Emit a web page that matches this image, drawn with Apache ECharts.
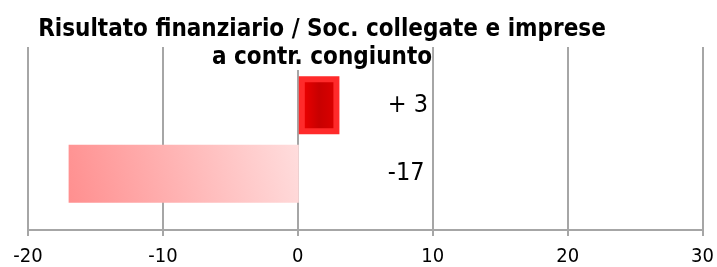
<!DOCTYPE html>
<html>
<head>
<meta charset="utf-8">
<script src="https://cdn.jsdelivr.net/npm/echarts@6/dist/echarts.min.js"></script>
<style>
  html, body { margin: 0; padding: 0; background: #fff; }
  #chart { width: 717px; height: 267px; }
</style>
</head>
<body>
<div id="chart"></div>
<script>
// dati
const categories = ['precedente', 'attuale']
const values = [-17, 3]
const tickMin = -20
const tickMax = 30
const tickStep = 10

const FONT = '"DejaVu Sans Condensed", "DejaVu Sans", sans-serif'
const GRID_COLOR = '#a6a6a6'

const chart = echarts.init(document.getElementById('chart'), null, {renderer: 'canvas'})

// stile delle barre: rosso "a rilievo" per il positivo, sfumatura rosa per il negativo
const barData = values.map(v => {
    if (v >= 0) {
        return {
            value: v,
            itemStyle: {
                color: new echarts.graphic.LinearGradient(0, 0, 1, 0, [
                    {offset: 0, color: '#f50000'},
                    {offset: 0.5, color: '#c80000'},
                    {offset: 1, color: '#e00000'}
                ]),
                borderColor: '#ff2a2a',
                borderWidth: 6
            }
        }
    }
    return {
        value: v,
        itemStyle: {
            color: new echarts.graphic.LinearGradient(0, 1, 1, 0, [
                {offset: 0, color: '#ff8f8f'},
                {offset: 1, color: '#ffdddd'}
            ])
        }
    }
})

const option = {
    animation: false,
    title: {
        text: 'Risultato finanziario / Soc. collegate e imprese\n{bg|a contr. congiunto}',
        left: 317,
        top: 11,
        textAlign: 'center',
        textStyle: {
            fontFamily: FONT,
            fontSize: 24,
            fontWeight: 'bold',
            color: '#000',
            lineHeight: 28,
            rich: {
                bg: {
                    fontFamily: FONT,
                    fontSize: 24,
                    fontWeight: 'bold',
                    lineHeight: 28,
                    color: '#000',
                    backgroundColor: '#fff'
                }
            }
        }
    },
    grid: [
        // griglia per assi e linee verticali
        {left: 28, right: 12, top: 47, bottom: 37},
        // griglia per le barre
        {left: 28, right: 12, top: 71, bottom: 59}
    ],
    xAxis: [
        {
            gridIndex: 0,
            type: 'value',
            min: tickMin,
            max: tickMax,
            interval: tickStep,
            axisLine: {show: true, onZero: false, lineStyle: {color: GRID_COLOR, width: 2}},
            axisTick: {show: true, length: 6, lineStyle: {color: GRID_COLOR, width: 2}},
            splitLine: {show: true, lineStyle: {color: GRID_COLOR, width: 2}},
            axisLabel: {
                color: '#000',
                fontFamily: FONT,
                fontSize: 20,
                margin: 17,
                showMinLabel: true,
                showMaxLabel: true
            }
        },
        {
            gridIndex: 1,
            type: 'value',
            min: tickMin,
            max: tickMax,
            interval: tickStep,
            show: false
        }
    ],
    yAxis: [
        {gridIndex: 0, type: 'category', data: categories, show: false},
        {gridIndex: 1, type: 'category', data: categories, show: false}
    ],
    series: [
        {
            type: 'bar',
            xAxisIndex: 1,
            yAxisIndex: 1,
            barWidth: 58,
            data: barData,
            z: 2
        },
        {
            // serie di appoggio per le etichette (barre di larghezza zero)
            type: 'bar',
            xAxisIndex: 1,
            yAxisIndex: 1,
            barWidth: 58,
            barGap: '-100%',
            data: values.map(() => 0),
            itemStyle: {color: 'transparent'},
            silent: true,
            label: {
                show: true,
                position: 'right',
                distance: 89,
                fontFamily: FONT,
                fontSize: 25,
                color: '#000',
                formatter: p => {
                    const v = values[p.dataIndex]
                    return v > 0 ? '+ ' + v : String(v)
                }
            },
            z: 3
        }
    ]
}

chart.setOption(option)
</script>
</body>
</html>
